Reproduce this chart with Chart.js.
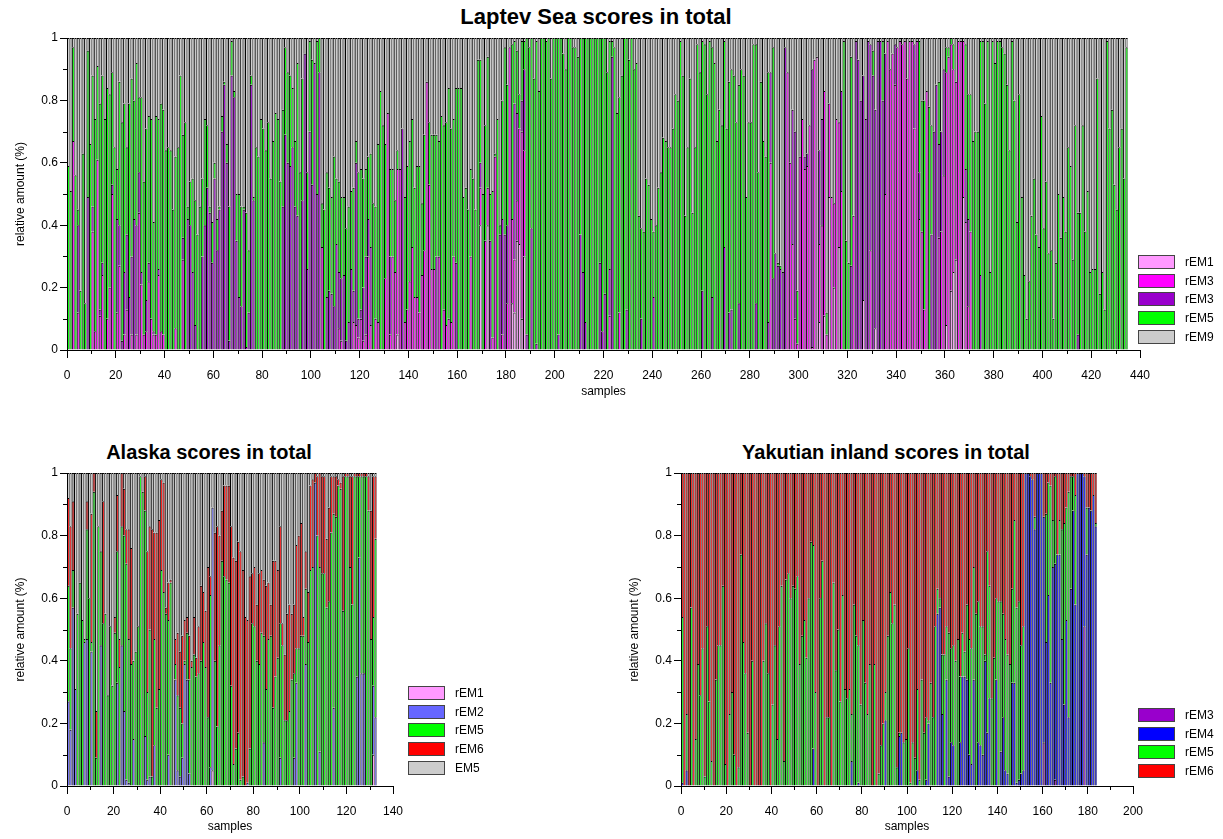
<!DOCTYPE html>
<html>
<head>
<meta charset="utf-8">
<title>scores in total</title>
<script src="https://cdn.jsdelivr.net/npm/chart.js@4.4.1/dist/chart.umd.min.js"></script>
<style>
  body { margin: 0; background: #fff; width: 1223px; height: 839px; position: relative; overflow: hidden;
         font-family: Arial, "Liberation Sans", sans-serif; }
  canvas { position: absolute; }
  .ttl { position: absolute; text-align: center; font-weight: bold; font-size: 20px; line-height: 22px; color: #000; }
  .lgd { position: absolute; font-size: 12px; color: #000; }
  .lgd div { height: 18.7px; display: flex; align-items: flex-start; }
  .lgd span.sw { display: inline-block; width: 37px; height: 14px; border: 1px solid #444; box-sizing: border-box; margin-right: 10px; }
  .lgd span.tx { line-height: 14px; }
</style>
</head>
<body>
<div class="ttl" style="left:0;top:5px;width:1192px;font-size:22px;line-height:24px">Laptev Sea scores in total</div>
<div class="ttl" style="left:0;top:441px;width:418px">Alaska scores in total</div>
<div class="ttl" style="left:600px;top:441px;width:572px">Yakutian inland scores in total</div>

<canvas id="laptev" width="1192" height="400" style="left:0;top:0"></canvas>
<canvas id="alaska" width="418" height="409" style="left:0;top:430px"></canvas>
<canvas id="yakut" width="572" height="409" style="left:600px;top:430px"></canvas>

<div class="lgd" id="lgLaptev" style="left:1138px;top:255px"></div>
<div class="lgd" id="lgAlaska" style="left:408px;top:686px"></div>
<div class="lgd" id="lgYakut" style="left:1138px;top:708px"></div>

<script>
// ---- Laptev Sea (435 samples) ----
const laptevLabels = ['rEM1', 'rEM3', 'rEM3', 'rEM5', 'rEM9'];
const laptevEM1 = [
0,0,0,0,0,0,0,0,0,0, 0,0,0,0,0,0,0,0,0,0, 0,0,0,0,0,0,0,0,0,0, 0,0,0,0,0,0,0,0,0,0,
0,0,0,0,0,0,0,0,0,0, 0,0,0,0,0,0,0,0,0,0, 0,0,0,0,0,0,0,0,0,0, 0,0,0,0,0,0,0,0,0,0,
0,0,0,0,0,0,0,0,0,0, 0,0,0,0,0,0,0,0,0,0, 0,0,0,0,0,0,0,0,0,0, 0,0,0,0,0,0,0,0,0,0,
0,0,0,0,0,0,0,0,0,0, 0,0,0,0,0,.05,0,0,0,0, 0,0,0,0,0,0,0,0,0,0, 0,0,0,0,0,0,0,0,0,0,
0,0,0,0,0,0,0,0,0,.4, 0,0,.4,0,0,0,0,0,0,0, 0,0,.15,.12,.35,.34,.1,.3,0,0, 0,0,0,0,0,0,0,0,0,0,
0,0,0,0,0,0,0,0,0,0, 0,0,0,0,0,0,0,0,0,0, 0,0,0,0,0,0,0,0,0,0, 0,0,0,0,0,0,0,0,0,0,
0,0,0,0,0,0,0,0,0,0, 0,0,0,0,0,0,0,0,0,0, 0,0,0,0,0,0,0,0,0,0, 0,0,0,0,0,0,0,0,0,0,
0,0,0,0,0,0,0,0,0,0, 0,0,0,0,0,0,0,0,0,0, 0,0,0,0,0,0,0,.94,.09,0, .11,0,.49,0,.2,0,.33,0,0,0,
0,0,0,0,0,0,.16,0,0,0, 0,.07,0,0,0,0,0,0,0,0, 0,0,0,0,0,0,0,0,0,0, 0,0,0,0,0,0,0,0,0,0,
.08,0,.19,.25,.29,0,0,.49,0,0, 0,0,0,0,0,0,0,0,0,0, 0,0,0,0,0,0,0,0,0,0, 0,0,0,0,0,0,0,0,0,0,
0,0,0,0,0,0,0,0,0,0, 0,0,0,0,0,0,0,0,0,0, 0,0,0,0,0,0,0,0,0,0, 0,0,0,0,0
];
const laptevEM3a = [
0,0,.67,0,.12,0,0,0,0,0, .38,.06,.61,.11,.24,0,.1,.2,.5,0, .12,.27,0,.05,.13,0,.05,0,.05,.44, .21,.05,.06,.22,.1,.05,.05,.24,.06,.05,
0,0,0,0,.07,0,0,.29,0,0, 0,0,0,0,0,0,0,0,0,0, 0,0,0,0,0,0,0,0,0,0, 0,0,0,0,0,0,0,0,0,0,
0,0,0,0,0,0,0,0,0,0, 0,0,0,0,0,0,0,0,0,0, 0,0,0,0,.33,0,0,0,0,0, 0,.07,.03,0,0,0,0,.09,.08,.04,
.1,.03,.05,.3,.08,0,.1,.09,0,0, .23,.76,.05,.3,.25,.53,.58,0,.09,.13, .22,.33,.17,.17,.12,.24,.32,.86,.53,.26, .26,0,.3,0,.13,.08,.1,.09,.3,0,
0,0,0,0,0,.3,0,0,0,.12, 0,.35,.12,0,.04,.62,0,0,.05,0, .15,.97,.27,.17,.13,.37,.6,.34,0,0, 0,0,0,0,0,0,0,0,0,0,
0,0,0,0,0,0,0,0,0,0, 0,0,0,0,0,0,0,0,0,0, 0,0,.11,0,0,0,.12,0,0,0, 0,0,0,0,0,0,0,0,0,0,
0,0,0,0,0,0,0,0,0,0, 0,0,0,0,0,0,0,0,0,0, 0,0,0,0,0,0,0,0,0,0, 0,0,0,0,0,0,0,0,0,0,
0,0,0,0,0,0,0,0,.6,0, 0,0,0,0,0,.89,.6,.34,.1,.02, .62,.74,.58,.59,.72,.01,.93,0,.25,.4, .72,.05,.3,.49,.27,.74,.4,.51,0,0,
0,0,.43,0,0,0,0,0,0,.32, 0,0,0,0,0,.5,.99,.9,.95,.85, .97,.99,.98,.99,.87,.99,.99,.71,.99,.42, .38,.13,.83,0,0,0,0,.36,.38,.56,
.81,.94,.79,.65,.57,.99,.99,.5,.41,.14, .38,0,0,0,0,0,0,0,0,0, 0,0,0,0,0,0,0,0,0,0, 0,0,0,0,0,0,0,0,0,0,
0,0,0,0,0,0,0,0,0,0, 0,0,0,0,0,0,0,0,0,0, 0,0,0,0,0,0,0,0,0,0, 0,0,0,0,0
];
const laptevEM3b = [
0,0,0,0,.28,0,0,0,.49,0, .08,0,0,.02,.04,0,0,0,.03,0, .3,.13,.03,.2,.24,.17,.25,.42,.35,.13, .04,0,.1,.06,0,.01,0,.02,0,0,
0,0,0,0,0,0,0,.07,0,.42, .4,.25,.08,0,0,.3,.4,.52,.44,.28, .55,.32,.45,.7,.85,.6,.03,.88,.81,.35, .17,.14,.45,.01,.12,.85,.48,0,0,0,
0,0,0,0,0,0,0,0,.46,.69, .6,.59,.65,.46,.43,0,.48,.95,.26,.7, .53,.92,.5,.89,0,0,.17,.19,.18,.14, .34,.18,.2,.24,.03,.09,.26,.1,.52,.06,
.03,.17,.25,.12,.25,0,0,0,0,0, 0,0,.25,0,0,0,0,.71,0,0, 0,0,0,0,0,0,0,0,0,0, 0,.3,0,0,0,0,0,0,0,.28,
0,0,0,0,0,0,0,0,0,.08, 0,0,0,.35,0,0,0,.37,.37,.37, .25,0,0,.5,.28,0,.1,.26,.05,0, .39,0,.02,0,0,0,0,0,0,0,
0,.05,0,0,0,0,0,0,0,0, .37,.25,.09,0,0,0,0,0,.28,.06, .18,0,.15,.94,0,0,0,0,0,.13, 0,0,0,0,0,.1,0,0,0,0,
.17,0,0,0,0,0,0,0,0,0, 0,0,0,0,0,0,0,0,0,0, .19,0,0,0,.17,0,0,0,0,.33, 0,.12,.13,0,0,.15,0,0,0,0,
0,0,.15,0,0,0,0,.09,.29,.23, .31,.27,.26,.25,.97,0,0,.43,.6,0, 0,0,.04,.04,0,.89,0,0,.3,.34, 0,0,0,0,0,0,0,.32,0,0,
0,.27,0,.99,.93,.8,.72,.74,.99,.66, .88,.7,.99,.99,.8,.45,0,0,0,.13, 0,0,0,0,0,0,0,.27,0,.15, 0,0,0,0,.37,.7,.85,.3,.32,.34,
0,0,0,0,0,0,0,0,.17,.28, 0,0,0,0,.24,0,0,0,0,0, 0,0,0,0,0,0,0,0,0,0, 0,0,0,0,0,0,0,0,0,0,
0,0,0,0,0,0,0,0,0,0, 0,0,0,0,.05,0,0,0,0,0, 0,0,0,0,0,0,0,0,0,0, 0,0,0,0,0
];
const laptevEM5 = [
.59,.51,.3,.56,.05,.19,.63,.15,.47,.66, .42,.68,.3,.66,.6,.74,.74,.62,.36,.65, .16,.46,.7,.54,.28,.62,.57,.38,.52,.24, .56,.49,.55,.47,.64,.35,.7,.48,.73,.72,
.64,.65,.64,.45,.55,.65,.88,.33,.73,.04, .14,.3,.4,.37,.46,.25,.34,.2,.02,.13, .05,.1,.01,.05,.01,.06,.43,.11,.02,.15, .33,.32,.01,.43,.2,.03,.01,.65,.62,.74,
.71,.64,.73,.55,.67,.76,.74,.54,.31,.28, .29,.29,.19,.21,.49,.57,.39,0,.31,.29, .4,0,.49,.11,.14,.45,.4,.33,.31,.48, .21,.29,.26,.25,.36,.37,.25,.33,.07,.47,
.45,.35,.28,.2,.3,.47,.36,.57,.83,.72, .43,0,.28,.28,.23,.06,0,0,.4,.46, .45,.41,.35,.42,.47,.23,.37,0,.2,.43, .43,.39,.37,.75,.59,.65,.74,.62,.44,.56,
.84,.84,.49,.52,.45,.28,.55,.45,.93,.33, .5,.37,.42,.15,.47,.01,.74,.03,.38,.6, .45,0,.56,.2,.2,.11,.19,.09,.95,.97, .61,.87,.97,.83,1,1,.99,1,.87,1,
1,.95,1,.95,.9,1,1,.97,.97,.94, .63,.75,.91,1,1,1,1,1,.72,.94, .82,.89,.73,.05,.97,.76,.69,.88,1,.87, .93,1,.9,.92,.43,.29,.38,.55,.53,.42,
.21,.4,.52,.57,.68,.67,.65,.65,.71,.82, .8,.99,.88,.43,.65,.87,.44,.65,.98,.89, .8,.98,.82,.99,.8,.92,.67,.77,.72,.66, .71,.74,.77,.88,.73,.7,.9,.88,.49,.73,
.73,.98,.83,.57,.86,.67,.62,.8,0,.74, 0,.01,.01,0,0,0,0,0,0,.17, 0,0,0,0,0,0,0,0,0,0, 0,.07,0,0,0,0,0,0,.99,.35,
.28,.67,0,0,0,0,0,0,0,0, .08,0,0,0,.19,0,0,0,0,0, 0,0,0,0,0,0,0,0,0,.42, .42,.67,0,.78,.35,0,0,.2,0,0,
.08,.03,.02,.08,0,0,0,0,.4,.4, .44,.67,.7,.7,.75,.99,.79,.99,.25,.99, .92,.99,.99,.97,.95,.85,.64,.99,.8,.41, .82,.49,.24,.1,.22,.43,.55,.37,.33,.75,
.39,.54,.31,.32,.1,.28,.5,.36,.49,.38, .65,.59,.29,.72,.39,.44,.72,.38,.51,.25, .26,.26,.87,.18,.25,.13,.99,.71,.77,.53, .45,.65,.71,.55,.97
];
const laptevEM9 = [
.41,.49,.03,.44,.55,.81,.37,.85,.04,.34, .12,.26,.09,.21,.12,.26,.16,.18,.11,.35, .42,.14,.27,.21,.35,.21,.13,.2,.08,.19, .19,.46,.29,.25,.26,.59,.25,.26,.21,.23,
.36,.35,.36,.55,.38,.35,.12,.31,.27,.54, .46,.45,.52,.63,.54,.45,.26,.28,.54,.59, .4,.58,.54,.25,.14,.34,.54,.01,.17,.5, .5,.54,.54,.56,.68,.12,.51,.35,.38,.26,
.29,.36,.27,.45,.33,.24,.26,.46,.23,.03, .11,.12,.16,.33,.08,.43,.13,.05,.43,.01, .07,.08,.01,0,.53,.55,.43,.48,.51,.38, .45,.46,.51,.51,.61,.54,.49,.48,.33,.43,
.42,.45,.42,.38,.37,.53,.54,.34,.17,.28, .34,.24,.42,.42,.52,.36,.42,.29,.51,.41, .33,.26,.48,.41,.41,.53,.31,.14,.27,.31, .31,.31,.33,.25,.28,.27,.16,.29,.26,.16,
.16,.16,.51,.48,.55,.42,.45,.55,.07,.07, .5,.28,.06,.5,.49,.37,.26,.6,.2,.03, .15,.03,.02,.01,.04,.18,.01,.01,0,.03, 0,.13,.01,.17,0,0,.01,0,.13,0,
0,0,0,.05,.1,0,0,.03,.03,.06, 0,0,0,0,0,0,0,0,0,0, 0,.11,.01,.01,.03,.24,.19,.12,0,0, .07,0,.1,.08,.57,.61,.62,.45,.47,.58,
.62,.6,.48,.43,.32,.33,.35,.35,.29,.18, .2,.01,.12,.57,.35,.13,.56,.35,.02,.11, .01,.02,.18,.01,.03,.08,.33,.23,.28,.01, .29,.14,.1,.12,.27,.15,.1,.12,.51,.27,
.27,.02,.02,.43,.14,.33,.38,.11,.11,.03, .69,.72,.73,.75,.03,.11,.4,.23,.3,.81, .38,.26,.38,.37,.28,.1,.07,.06,.36,.26, .17,.88,.21,.51,.53,.26,.27,.17,.01,.65,
.72,.06,.57,.01,.07,.2,.12,.26,.01,.02, .04,.23,.01,.01,.01,.05,.01,.1,.05,.02, .03,.01,.02,.01,.13,.01,.01,.02,.01,.01, .2,.2,.17,.22,.28,.3,.15,.14,.3,.1,
.03,.03,0,.02,.14,.01,.01,.01,.02,.18, .18,.33,.3,.3,.01,.01,.21,.01,.75,.01, .08,.01,.01,.03,.05,.15,.36,.01,.2,.59, .18,.51,.76,.9,.78,.57,.45,.63,.67,.25,
.61,.46,.69,.68,.9,.72,.5,.64,.51,.62, .35,.41,.71,.28,.56,.56,.28,.62,.49,.75, .74,.74,.13,.82,.75,.87,.01,.29,.23,.47, .55,.35,.29,.45,.03
];

// ---- Alaska (133 samples) ----
const alaskaLabels = ['rEM1', 'rEM2', 'rEM5', 'rEM6', 'EM5'];
const alaskaEM1 = [
0,0,0,0,0,0,0,0,0,0, 0,0,0,0,0,0,0,0,0,0, 0,0,0,0,0,0,0,0,0,0, 0,0,0,0,0,0,0,0,0,0,
0,0,0,0,0,0,0,0,0,0, 0,0,0,0,0,0,0,0,0,0, 0,0,.05,0,0,0,0,0,0,0, 0,0,0,0,0,0,0,0,0,0,
0,0,0,0,0,0,0,0,0,0, 0,0,0,0,0,0,0,0,0,0, 0,0,0,0,0,0,0,0,0,0, 0,0,0,0,0,0,0,0,0,0,
0,0,0,0,0,0,0,0,0,0, 0,.1,0
];
const alaskaEM2 = [
.27,.18,.57,.31,0,0,0,.46,.47,0, .43,0,0,0,.45,0,0,0,0,0, 0,.33,0,.45,.24,.02,.01,0,.15,0, 0,0,0,.16,.02,.03,0,.13,0,0,
0,0,0,.1,0,0,.34,.05,.03,.09, .39,.34,.04,0,0,0,0,0,0,0, 0,.06,.84,0,0,0,0,0,0,0, 0,0,0,0,0,0,0,.01,0,0,
0,0,0,0,.14,0,0,0,0,0, 0,.09,0,0,0,0,0,.09,.33,0, 0,0,.39,0,0,0,.97,0,.11,0, 0,0,0,0,.25,0,0,0,0,0,
0,0,0,0,.35,.73,.36,.36,0,0, 0,.22,.22
];
const alaskaEM5 = [
.37,.26,.12,0,.55,.65,.53,.01,.35,.6, .03,.94,.09,.83,.3,.52,.55,.29,.51,.32, .49,.42,.38,.38,.56,.69,.46,.39,.25,.43, .51,.99,.94,.72,.28,.47,.03,.34,.25,.31,
.69,.62,.55,.43,.65,0,.05,.24,.22,.11, .01,.15,.3,.38,.42,.35,.36,.4,.46,.38, .22,.55,0,.4,.19,.45,.72,.67,.66,.65, .32,.07,.12,.17,.02,.03,0,0,.12,.52,
.51,.4,.39,.49,.34,.31,.47,.48,.25,.35, .41,.43,.45,.21,.21,.24,.34,.27,.11,.44, .48,.48,.24,.46,.69,.7,0,.8,.59,.68, .68,.57,.59,.81,.62,.86,.96,.95,.56,.99,
.99,.7,.58,.99,.64,.26,.63,.63,.99,.88, .47,.22,.57
];
const alaskaEM6 = [
.28,.39,.22,0,0,0,0,0,.09,0, .41,.06,.15,0,0,.39,0,0,0,0, .05,.18,.09,.17,.15,.11,.35,.37,0,0, 0,0,0,.11,.45,.33,.79,.34,.56,.54,
.29,.35,.02,.12,.01,0,.08,.2,.18,.28, .13,.05,.14,.02,.12,.06,.15,.24,.16,.18, .48,.06,0,.41,.64,.35,.16,.29,.3,.31, .51,.66,.6,.61,.73,.66,.54,.52,.55,.16,
.19,.18,.29,.2,.18,.33,.18,.1,.47,.37, .28,.31,.07,.21,.34,.34,.21,.22,.33,.36, .36,.06,.12,.16,.27,.28,.03,.19,.3,.31, .31,.22,.3,.18,.12,.13,.02,.02,.43,.01,
.01,.29,.41,.01,.01,.01,.01,.01,.01,.11, .41,.45,.2
];
const alaskaEM5b = [
.08,.17,.09,.69,.45,.35,.47,.53,.09,.4, .13,0,.76,.17,.25,.09,.45,.71,.49,.68, .46,.07,.53,0,.05,.18,.18,.24,.6,.57, .49,.01,.06,.01,.25,.17,.18,.19,.19,.15,
.02,.03,.43,.35,.34,1,.53,.51,.57,.52, .47,.46,.52,.6,.46,.59,.49,.36,.38,.44, .3,.33,.11,.19,.17,.2,.12,.04,.04,.04, .17,.27,.28,.22,.25,.31,.46,.47,.33,.32,
.3,.42,.32,.31,.34,.36,.35,.42,.28,.28, .31,.17,.48,.58,.45,.42,.45,.42,.23,.2, .16,.46,.25,.38,.04,.02,0,.01,0,.01, .01,.21,.11,.01,.01,.01,.02,.03,.01,0,
0,.01,.01,0,0,0,0,0,0,.01, .12,.01,.01
];

// ---- Yakutian inland (184 samples) ----
const yakutLabels = ['rEM3', 'rEM4', 'rEM5', 'rEM6'];
const yakutEM3 = [
0,0,0,0,0,0,0,0,0,0, 0,0,0,0,0,0,0,0,0,0, 0,0,0,0,0,0,0,0,0,0, 0,0,0,0,0,0,0,0,0,0,
0,0,0,0,0,0,0,0,0,0, 0,0,0,0,0,0,0,0,0,0, 0,0,0,0,0,0,0,0,0,0, 0,0,0,0,0,0,0,0,0,0,
0,0,0,0,0,0,0,0,0,0, 0,0,0,0,0,0,0,0,0,0, 0,0,0,0,0,0,0,0,0,0, 0,0,0,0,0,0,0,0,0,0,
0,0,0,0,0,0,0,0,0,0, 0,0,0,0,0,0,0,0,0,0, 0,0,0,0,0,0,0,0,0,0, 0,0,0,0,0,0,0,0,0,0,
.14,0,0,0,0,.02,0,0,0,0, 0,0,0,0,0,0,0,0,.51,0, 0,0,0,0
];
const yakutEM4 = [
.01,0,.05,0,0,0,0,0,0,0, 0,0,0,0,0,0,0,0,0,0, 0,0,0,0,0,0,0,0,0,0, 0,0,0,0,0,0,0,0,0,0,
0,0,0,0,0,0,0,0,0,0, 0,0,0,0,0,0,0,0,.12,0, 0,0,0,0,0,0,0,0,0,0, 0,0,0,0,0,.08,0,0,.01,0,
0,0,0,0,0,0,0,0,0,0, .21,0,0,0,0,0,.16,.17,0,0, 0,0,0,0,.05,0,0,0,.02,.2, 0,0,0,.55,.57,.23,0,.34,.03,.14,
.13,0,0,.14,.35,.35,.34,.1,.07,.34, 0,.14,.13,.1,.4,.17,.28,0,0,.34, 0,.11,.22,.05,.04,0,.33,.33,.01,.02, .04,.05,1,1,.99,.98,.82,1,1,1,
.72,.46,.61,.33,.7,.69,.74,.74,.47,.26, .53,.22,.63,.88,.58,1,1,1,.48,.74, .89,.88,.93,.83
];
const yakutEM5 = [
.53,0,.18,0,.57,0,.15,.39,.29,.44, .03,.51,.27,.08,0,.34,.45,.45,.64,.07, 0,.23,.3,.1,0,.06,.74,.46,.36,.17, 0,.4,0,0,0,0,.4,.52,.36,0,
.26,.45,.15,.51,.64,.08,.66,.68,.6,.64, .63,.67,.39,.48,.53,.41,.6,.78,.65,.3, 0,.6,.72,0,.22,.22,0,.65,.37,.5, .27,.61,.31,.28,.31,.15,.58,.48,.44,.26,
.53,.33,.23,.39,0,.39,0,.04,.13,.2, .09,.48,.62,.52,.58,.06,.01,0,.14,.15, .44,.01,.14,.09,.26,.02,.34,.17,.2,.01, .33,.22,.51,.08,.03,.19,.42,.17,.46,.3,
.32,.4,.47,.21,.14,.08,.24,.37,.37,.36, .55,.45,.38,.41,.02,.58,.36,.28,.41,.26, .59,.48,.33,.42,.38,.39,.3,.52,.56,.57, .41,.46,0,0,0,0,.04,0,0,0,
0,.41,.36,.63,.15,.28,0,.11,.35,.58, .36,.72,.36,.11,.35,0,0,0,0,.15, 0,0,0,.01
];
const yakutEM6 = [
.46,1,.77,1,.43,1,.85,.61,.71,.56, .97,.49,.73,.92,1,.66,.55,.55,.36,.93, 1,.77,.7,.9,1,.94,.26,.54,.64,.83, 1,.6,1,1,1,1,.6,.48,.64,1,
.74,.55,.85,.49,.36,.92,.34,.32,.4,.36, .37,.33,.61,.52,.47,.59,.4,.22,.23,.7, 1,.4,.28,1,.78,.78,1,.35,.63,.5, .73,.39,.69,.72,.69,.77,.42,.52,.55,.74,
.47,.67,.77,.61,1,.61,1,.96,.87,.8, .7,.52,.38,.48,.42,.94,.83,.83,.86,.85, .56,.99,.86,.91,.69,.98,.66,.83,.78,.79, .67,.78,.49,.37,.4,.58,.58,.49,.51,.56,
.55,.6,.53,.65,.51,.57,.42,.53,.56,.3, .45,.41,.49,.49,.58,.25,.36,.72,.59,.4, .41,.41,.45,.53,.58,.61,.37,.15,.43,.41, .55,.49,0,0,.01,.02,.14,0,0,0,
.14,.13,.03,.04,.15,.01,.26,.15,.18,.16, .11,.06,.01,.01,.07,0,0,0,.01,.11, .11,.12,.07,.16
];

const PINK = '#ff99ff', MAGENTA = '#ff00ff', PURPLE = '#9900cc', GREEN = '#00ff00',
      GREY = '#cccccc', LBLUE = '#6666ff', BLUE = '#0000ff', RED = '#ff0000';

Chart.defaults.font.family = 'Arial, "Liberation Sans", sans-serif';
Chart.defaults.font.size = 12;
Chart.defaults.color = '#000';

// short minor tick marks between the labelled ones
const minorTicks = {
  id: 'minorTicks',
  afterDraw(chart, args, opts) {
    const { ctx, chartArea: a, scales: { x, y } } = chart;
    ctx.save();
    ctx.strokeStyle = '#000';
    ctx.lineWidth = 1;
    ctx.beginPath();
    for (let v = opts.xStep; v < x.max; v += 2 * opts.xStep) {
      const px = Math.round(x.getPixelForValue(v)) + 0.5;
      ctx.moveTo(px, a.bottom);
      ctx.lineTo(px, a.bottom + 4);
    }
    for (let v = 0.1; v < 1; v += 0.2) {
      const py = Math.round(y.getPixelForValue(v)) + 0.5;
      ctx.moveTo(a.left, py);
      ctx.lineTo(a.left - 4, py);
    }
    ctx.stroke();
    ctx.restore();
  }
};

function series(label, values, color) {
  return {
    label,
    data: values.map((v, i) => ({ x: i + 0.5, y: v })),
    backgroundColor: color,
    borderColor: '#000',
    borderWidth: { top: 1, left: 1, right: 0.5, bottom: 0 },
    inflateAmount: 0,
    barPercentage: 1,
    categoryPercentage: 1
  };
}

function makeChart(id, datasets, xMax, pad, xHeight, titleBottom) {
  return new Chart(document.getElementById(id), {
    type: 'bar',
    data: { datasets },
    options: {
      responsive: false,
      animation: false,
      events: [],
      layout: { padding: pad },
      plugins: {
        legend: { display: false },
        tooltip: { enabled: false },
        minorTicks: { xStep: 10 }
      },
      scales: {
        x: {
          type: 'linear', stacked: true, min: 0, max: xMax, offset: false,
          ticks: { stepSize: 20, padding: 10, maxRotation: 0, autoSkip: false },
          grid: { drawOnChartArea: false, offset: false, tickLength: 8, color: '#000' },
          border: { color: '#000' },
          title: { display: true, text: 'samples', padding: { top: 2, bottom: titleBottom } },
          afterFit: s => { s.height = xHeight; }
        },
        y: {
          stacked: true, min: 0, max: 1,
          ticks: { stepSize: 0.2, padding: 2, callback: v => String(Math.round(v * 10) / 10) },
          grid: { drawOnChartArea: false, tickLength: 7, color: '#000' },
          border: { color: '#000' },
          title: { display: true, text: 'relative amount (%)', padding: { top: 13, bottom: 2 } },
          afterFit: s => { s.width = 67; }
        }
      }
    },
    plugins: [minorTicks]
  });
}

makeChart('laptev', [
  series(laptevLabels[0], laptevEM1, PINK),
  series(laptevLabels[1], laptevEM3a, MAGENTA),
  series(laptevLabels[2], laptevEM3b, PURPLE),
  series(laptevLabels[3], laptevEM5, GREEN),
  series(laptevLabels[4], laptevEM9, GREY)
], 440, { left: 0, right: 52, top: 38, bottom: 0 }, 50, 1);

makeChart('alaska', [
  series(alaskaLabels[0], alaskaEM1, PINK),
  series(alaskaLabels[1], alaskaEM2, LBLUE),
  series(alaskaLabels[2], alaskaEM5, GREEN),
  series(alaskaLabels[3], alaskaEM6, RED),
  series(alaskaLabels[4], alaskaEM5b, GREY)
], 140, { left: 0, right: 25, top: 43, bottom: 0 }, 53, 5);

makeChart('yakut', [
  series(yakutLabels[0], yakutEM3, PURPLE),
  series(yakutLabels[1], yakutEM4, BLUE),
  series(yakutLabels[2], yakutEM5, GREEN),
  series(yakutLabels[3], yakutEM6, RED)
], 200, { left: 14, right: 39, top: 43, bottom: 0 }, 53, 5);

// legends
function legend(id, labels, colors) {
  const el = document.getElementById(id);
  labels.forEach((t, i) => {
    const row = document.createElement('div');
    row.innerHTML = '<span class="sw" style="background:' + colors[i] + '"></span><span class="tx">' + t + '</span>';
    el.appendChild(row);
  });
}
legend('lgLaptev', laptevLabels, [PINK, MAGENTA, PURPLE, GREEN, GREY]);
legend('lgAlaska', alaskaLabels, [PINK, LBLUE, GREEN, RED, GREY]);
legend('lgYakut', yakutLabels, [PURPLE, BLUE, GREEN, RED]);
</script>
</body>
</html>
